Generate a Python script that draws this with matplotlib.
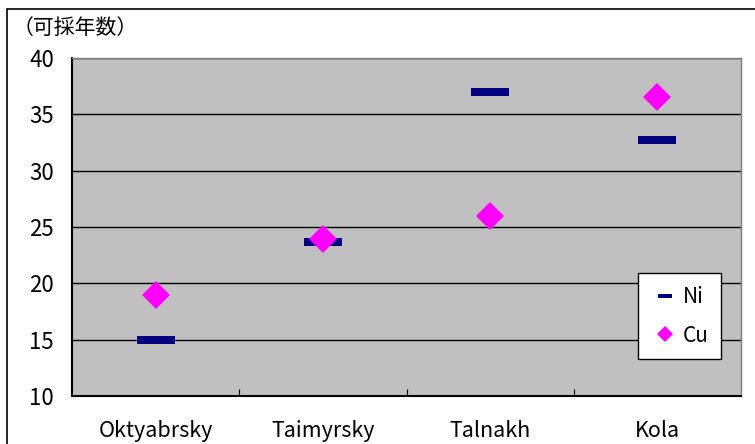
"""Recoverable years chart for Norilsk / Kola deposits"""

import matplotlib
matplotlib.use("Agg")
import matplotlib.pyplot as plt
from matplotlib.patches import Rectangle

plt.rcParams['font.family'] = ['Noto Sans CJK JP', 'DejaVu Sans']

# Data
mines = ['Oktyabrsky', 'Taimyrsky', 'Talnakh', 'Kola']
ni_years = [15.0, 23.7, 37.0, 32.7]
cu_years = [19.0, 23.9, 26.0, 36.5]
yticks = [10, 15, 20, 25, 30, 35, 40]
ylabel = '（可採年数）'

# bar-shaped marker for Ni
bar_marker = [(-1, -0.22), (1, -0.22), (1, 0.22), (-1, 0.22), (-1, -0.22)]

fig = plt.figure(figsize=(7.55, 4.44), dpi=100)
ax = fig.add_axes([0.0954, 0.1081, 0.8861, 0.7613])
ax.set_facecolor('#C0C0C0')

x = list(range(len(mines)))
ax.plot(x, ni_years, linestyle='none', marker=bar_marker, markersize=27,
        color='#000080', markeredgewidth=0, label='Ni', zorder=3)
ax.plot(x, cu_years, linestyle='none', marker='D', markersize=14,
        color='#FF00FF', markeredgewidth=0, label='Cu', zorder=3)

ax.set_xlim(-0.5, len(mines) - 0.5)
ax.set_ylim(10, 40)
ax.set_yticks(yticks)
ax.set_yticklabels([str(v) for v in yticks], fontsize=16)
ax.yaxis.grid(True, color='black', linewidth=1)
ax.set_axisbelow(True)

# category labels between boundary ticks
ax.set_xticks([i + 0.5 for i in x[:-1]])
ax.set_xticklabels([])
ax.set_xticks(x, minor=True)
ax.set_xticklabels(mines, minor=True, fontsize=15.5)
ax.tick_params(axis='x', which='minor', length=0, pad=17)
ax.tick_params(axis='x', which='major', direction='in', length=5, color='black')
ax.tick_params(axis='y', direction='in', length=5, pad=13)

for side in ['left', 'bottom']:
    ax.spines[side].set_color('black')
    ax.spines[side].set_linewidth(1.5)
for side in ['top', 'right']:
    ax.spines[side].set_color('#808080')
    ax.spines[side].set_linewidth(1)

leg = ax.legend(loc='lower right', bbox_to_anchor=(0.970, 0.109), fontsize=15,
                frameon=True, fancybox=False, edgecolor='black',
                framealpha=1, borderaxespad=0, handlelength=1.4,
                handletextpad=0.15, borderpad=0.6, labelspacing=0.8)
leg.get_frame().set_linewidth(1)
leg.legend_handles[0].set_markersize(10)
leg.legend_handles[1].set_markersize(8.5)

fig.text(0.017, 0.937, ylabel, fontsize=15, ha='left', va='center')

# outer chart border (right and bottom edges fall outside the image)
fig.patches.append(Rectangle((7 / 755, -0.1), 1.2, 1.1 - 9 / 444,
                             transform=fig.transFigure, fill=False,
                             edgecolor='black', linewidth=1.2))

fig.savefig('out.png', dpi=100)
